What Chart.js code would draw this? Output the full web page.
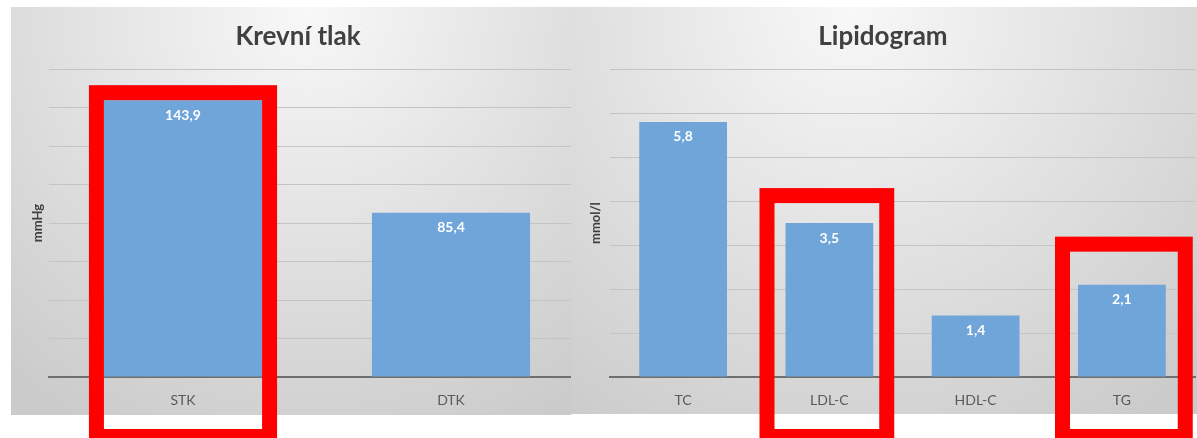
<!DOCTYPE html>
<html>
<head>
<meta charset="utf-8">
<script src="https://cdn.jsdelivr.net/npm/chart.js@4.4.1/dist/chart.umd.min.js"></script>
<style>
  html, body { margin: 0; padding: 0; background: #ffffff; }
  body { width: 1197px; height: 438px; position: relative; overflow: hidden; }
  .panel { position: absolute; top: 7px; }
  #leftBox { left: 11px; width: 590px; height: 431px; }
  #rightBox { left: 571px; width: 626px; height: 431px; }
</style>
</head>
<body>
<div class="panel" id="leftBox"><canvas id="graficoTlak" width="590" height="431"></canvas></div>
<div class="panel" id="rightBox"><canvas id="graficoLipidy" width="626" height="431"></canvas></div>
<script>
// Krevní tlak
const tlakKategorie = ['STK', 'DTK'];
const tlakHodnoty = [143.9, 85.4];
const tlakOsaMax = 160;
const tlakOsaKrok = 20;
const tlakZvyraznene = ['STK'];

// Lipidogram
const lipidKategorie = ['TC', 'LDL-C', 'HDL-C', 'TG'];
const lipidHodnoty = [5.8, 3.5, 1.4, 2.1];
const lipidOsaMax = 7;
const lipidOsaKrok = 1;
const lipidZvyraznene = ['LDL-C', 'TG'];

const FONT = 'Lato, "Open Sans", "Liberation Sans", sans-serif';
const BAR_COLOR = '#6fa5d8';

// pozadi panelu (sedy gradient)
const pozadiPlugin = {
    id: 'pozadi',
    beforeDraw(chart, args, opts) {
        const ctx = chart.ctx;
        const w = chart.width;
        const h = opts.panelHeight;
        ctx.save();
        ctx.fillStyle = '#ffffff';
        ctx.fillRect(0, 0, w, chart.height);
        const g = ctx.createRadialGradient(w * opts.cx, 0, 0, w * opts.cx, 0, w * 0.8);
        g.addColorStop(0, '#f8f8f8');
        g.addColorStop(1, '#cbcbcb');
        ctx.fillStyle = g;
        ctx.fillRect(0, 0, w, h);
        ctx.restore();
    }
};

// hodnoty uvnitr sloupcu
const hodnotyPlugin = {
    id: 'hodnoty',
    afterDatasetsDraw(chart) {
        const ctx = chart.ctx;
        const meta = chart.getDatasetMeta(0);
        const data = chart.data.datasets[0].data;
        ctx.save();
        ctx.fillStyle = '#ffffff';
        ctx.font = 'bold 14px ' + FONT;
        ctx.textAlign = 'center';
        ctx.textBaseline = 'middle';
        meta.data.forEach((el, i) => {
            ctx.fillText(String(data[i]).replace('.', ','), el.x, el.y + 15);
        });
        ctx.restore();
    }
};

// cervene ramecky kolem vybranych sloupcu
const ramecekPlugin = {
    id: 'ramecek',
    afterDraw(chart, args, opts) {
        const ctx = chart.ctx;
        const meta = chart.getDatasetMeta(0);
        const labels = chart.data.labels;
        const lw = 15;
        ctx.save();
        ctx.strokeStyle = '#ff0000';
        ctx.lineWidth = lw;
        opts.items.forEach(item => {
            const i = labels.indexOf(item.label);
            if (i < 0) return;
            const el = meta.data[i];
            const left = el.x - el.width / 2 - item.padL;
            const right = el.x + el.width / 2 + item.padR;
            const top = el.y - item.padT;
            const bottom = opts.bottom;
            ctx.strokeRect(left - lw / 2, top - lw / 2, right - left + lw, bottom - top + lw);
        });
        ctx.restore();
    }
};

function vytvorGraf(el, cfg) {
    return new Chart(el, {
        type: 'bar',
        data: {
            labels: cfg.labels,
            datasets: [{
                data: cfg.values,
                backgroundColor: BAR_COLOR,
                borderWidth: 0,
                categoryPercentage: 1,
                barPercentage: cfg.barPct
            }]
        },
        options: {
            responsive: false,
            animation: false,
            events: [],
            layout: {
                padding: { left: 0, right: cfg.padRight, top: 0, bottom: 22 }
            },
            plugins: {
                legend: { display: false },
                tooltip: { enabled: false },
                title: {
                    display: true,
                    text: cfg.title,
                    color: '#404040',
                    font: { family: FONT, size: 26, weight: 'bold' },
                    padding: { top: 14, bottom: 17 }
                },
                pozadi: { panelHeight: cfg.panelHeight, cx: cfg.gradCx },
                ramecek: { items: cfg.highlights, bottom: 422 }
            },
            scales: {
                x: {
                    grid: { display: false, drawTicks: false },
                    border: { display: true, color: '#6f6f6f', width: 2 },
                    ticks: {
                        color: '#595959',
                        font: { family: FONT, size: 14 },
                        padding: 15
                    },
                    afterFit(scale) { scale.height = 39; }
                },
                y: {
                    min: 0,
                    max: cfg.max,
                    ticks: { display: false, stepSize: cfg.step },
                    grid: { color: '#c4c4c4', lineWidth: 1, drawTicks: false },
                    border: { display: false },
                    title: {
                        display: true,
                        text: cfg.unit,
                        color: '#404040',
                        font: { family: FONT, size: 13, weight: 'bold' },
                        padding: { top: cfg.unitPad, bottom: 0 }
                    },
                    afterFit(scale) { scale.width = cfg.axisWidth; }
                }
            }
        },
        plugins: [pozadiPlugin, hodnotyPlugin, ramecekPlugin]
    });
}

vytvorGraf(document.getElementById('graficoTlak'), {
    title: 'Krevní tlak',
    unit: 'mmHg',
    labels: tlakKategorie,
    values: tlakHodnoty,
    max: tlakOsaMax,
    step: tlakOsaKrok,
    barPct: 0.59,
    padRight: 16,
    axisWidth: 38,
    unitPad: 19,
    panelHeight: 408,
    gradCx: 0.5,
    highlights: tlakZvyraznene.map(l => ({ label: l, padL: 0, padR: 0, padT: 0 }))
});

vytvorGraf(document.getElementById('graficoLipidy'), {
    title: 'Lipidogram',
    unit: 'mmol/l',
    labels: lipidKategorie,
    values: lipidHodnoty,
    max: lipidOsaMax,
    step: lipidOsaKrok,
    barPct: 0.6,
    padRight: 2,
    axisWidth: 39,
    unitPad: 17,
    panelHeight: 407,
    gradCx: 0.45,
    highlights: [
        { label: lipidZvyraznene[0], padL: 11, padR: 6, padT: 20 },
        { label: lipidZvyraznene[1], padL: 8, padR: 12, padT: 33 }
    ]
});
</script>
</body>
</html>
